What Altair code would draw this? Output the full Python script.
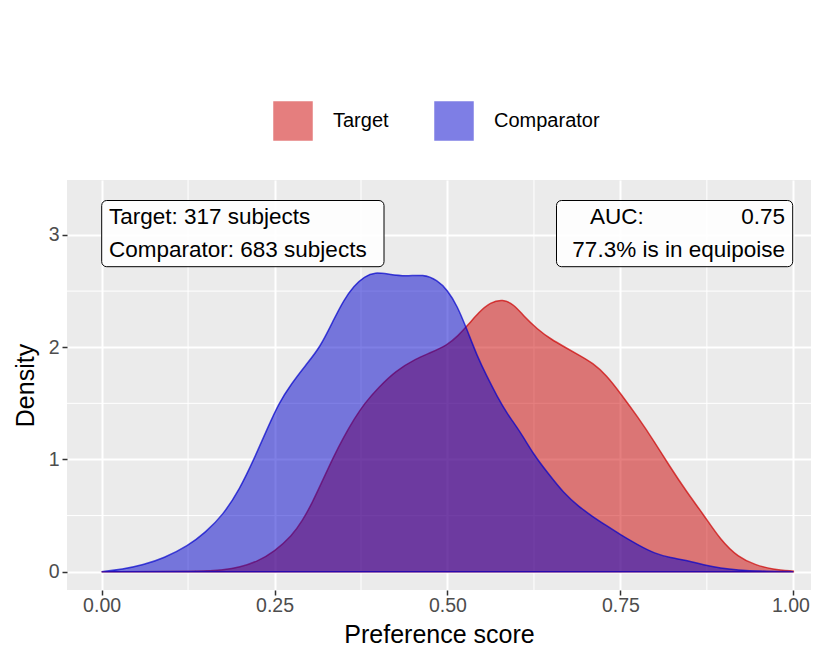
import altair as alt
import pandas as pd

# ---- data ----
groups = ["Target", "Comparator"]
colors = ["#CC0000", "#0000CC"]

target_score = [0.00, 0.15, 0.175, 0.20, 0.225, 0.25, 0.275, 0.29, 0.305, 0.32, 0.335, 0.35, 0.365,
                0.38, 0.40, 0.425, 0.455, 0.475, 0.50, 0.515, 0.53, 0.545, 0.562, 0.58, 0.596, 0.61,
                0.63, 0.65, 0.67, 0.69, 0.71, 0.73, 0.75, 0.775, 0.80, 0.82, 0.847, 0.87, 0.895,
                0.92, 0.945, 0.97, 1.00]
target_density = [0.0, 0.003, 0.015, 0.04, 0.09, 0.18, 0.32, 0.45, 0.62, 0.82, 1.02, 1.20, 1.36,
                  1.50, 1.64, 1.79, 1.90, 1.95, 2.02, 2.10, 2.20, 2.31, 2.40, 2.43, 2.38, 2.28,
                  2.16, 2.07, 2.00, 1.93, 1.86, 1.75, 1.59, 1.38, 1.15, 0.95, 0.70, 0.51, 0.28,
                  0.13, 0.06, 0.02, 0.005]

comparator_score = [0.00, 0.03, 0.06, 0.09, 0.125, 0.15, 0.175, 0.20, 0.22, 0.24, 0.256, 0.275,
                    0.295, 0.316, 0.335, 0.35, 0.365, 0.38, 0.395, 0.415, 0.44, 0.465, 0.485,
                    0.50, 0.514, 0.528, 0.543, 0.557, 0.572, 0.586, 0.606, 0.625, 0.645, 0.668,
                    0.69, 0.71, 0.73, 0.75, 0.775, 0.80, 0.822, 0.847, 0.87, 0.895, 0.92, 0.95, 1.00]
comparator_density = [0.0, 0.02, 0.06, 0.12, 0.23, 0.35, 0.50, 0.74, 1.00, 1.28, 1.50, 1.68,
                       1.84, 2.00, 2.24, 2.42, 2.55, 2.63, 2.67, 2.65, 2.63, 2.65, 2.60,
                       2.51, 2.37, 2.16, 1.92, 1.74, 1.56, 1.41, 1.24, 1.04, 0.88, 0.70,
                       0.58, 0.49, 0.41, 0.33, 0.24, 0.16, 0.125, 0.10, 0.06, 0.03, 0.015, 0.005, 0.0]

x_ticks = [0.0, 0.25, 0.5, 0.75, 1.0]
y_ticks = [0, 1, 2, 3]
x_minor = [0.125, 0.375, 0.625, 0.875]
y_minor = [0.5, 1.5, 2.5]

left_lines = ["Target: 317 subjects", "Comparator: 683 subjects"]
auc_label = "AUC:"
auc_value = "0.75"
equipoise_line = "77.3% is in equipoise"

# ---- build table ----
df = pd.concat([
    pd.DataFrame({"score": target_score, "density": target_density, "group": groups[0]}),
    pd.DataFrame({"score": comparator_score, "density": comparator_density, "group": groups[1]}),
])

FONT = "Liberation Sans"
W, H = 744, 410
xscale = alt.Scale(domain=[-0.05, 1.0255], nice=False, zero=False)
yscale = alt.Scale(domain=[-0.163, 3.49], nice=False, zero=False)

xaxis = alt.Axis(values=x_ticks, format=".2f", title="Preference score", grid=True,
                 labelOffset=alt.ExprRef(expr="datum.value >= 1 ? -3 : 0"))
yaxis = alt.Axis(values=y_ticks, format="d", title="Density", grid=True)

cscale = alt.Scale(domain=groups, range=colors)

minor_x = alt.Chart(pd.DataFrame({"score": x_minor})).mark_rule(
    color="white", strokeWidth=1).encode(x=alt.X("score:Q", scale=xscale, axis=xaxis))
minor_y = alt.Chart(pd.DataFrame({"density": y_minor})).mark_rule(
    color="white", strokeWidth=1).encode(y=alt.Y("density:Q", scale=yscale, axis=yaxis))


def area_layer(g):
    return alt.Chart(df).transform_filter(alt.datum.group == g).mark_area(
        fillOpacity=0.5, strokeOpacity=0.7, strokeWidth=1.5, interpolate="basis"
    ).encode(
        x=alt.X("score:Q", scale=xscale, axis=xaxis),
        y=alt.Y("density:Q", scale=yscale, axis=yaxis, stack=None),
        color=alt.Color("group:N", scale=cscale, title=None, legend=alt.Legend(
            orient="none", legendX=206, legendY=-79, direction="horizontal",
            symbolType="square", symbolSize=1444, symbolOpacity=0.5,
            symbolStrokeWidth=1.5, labelFontSize=20, labelFont=FONT,
            labelColor="#000000", labelOffset=20, columnPadding=43)),
        stroke=alt.Stroke("group:N", scale=cscale, title=None, legend=None),
    )


one = pd.DataFrame({"a": [0]})


def box(x0, x1, y0, y1):
    return alt.Chart(one).mark_rect(
        fill="white", fillOpacity=0.9, stroke="black", strokeWidth=1, cornerRadius=5
    ).encode(x=alt.value(x0), x2=alt.value(x1), y=alt.value(y0), y2=alt.value(y1))


def txt(s, x, y, align="left"):
    return alt.Chart(one).mark_text(
        text=s, font=FONT, fontSize=22.5, color="#000000", align=align, baseline="alphabetic"
    ).encode(x=alt.value(x), y=alt.value(y))


layers = [
    minor_x, minor_y,
    area_layer(groups[0]), area_layer(groups[1]),
    box(34.7, 317, 20.5, 86.7),
    txt(left_lines[0], 42, 43.5),
    txt(left_lines[1], 42, 76.5),
    box(489.5, 725.7, 20.5, 86.7),
    txt(auc_label, 523, 43.5),
    txt(auc_value, 718, 43.5, "right"),
    txt(equipoise_line, 718, 76.5, "right"),
]

chart = alt.layer(*layers).properties(
    width=W, height=H,
    autosize=alt.AutoSizeParams(type="none"),
    padding={"left": 59, "top": 172, "right": 0, "bottom": 58},
).configure_view(
    fill="#EBEBEB", stroke=None
).configure_axis(
    domain=False, gridColor="white", gridWidth=2,
    tickColor="#333333", tickWidth=1.5, tickSize=5,
    labelFont=FONT, labelFontSize=19.5, labelColor="#4D4D4D", labelPadding=3,
    titleFont=FONT, titleFontSize=25, titleColor="#000000", titleFontWeight="normal",
).configure_axisX(
    labelPadding=1, titlePadding=8
).configure_axisY(
    titlePadding=10
)

chart.save("out.html", embed_options={"renderer": "svg", "actions": False})
